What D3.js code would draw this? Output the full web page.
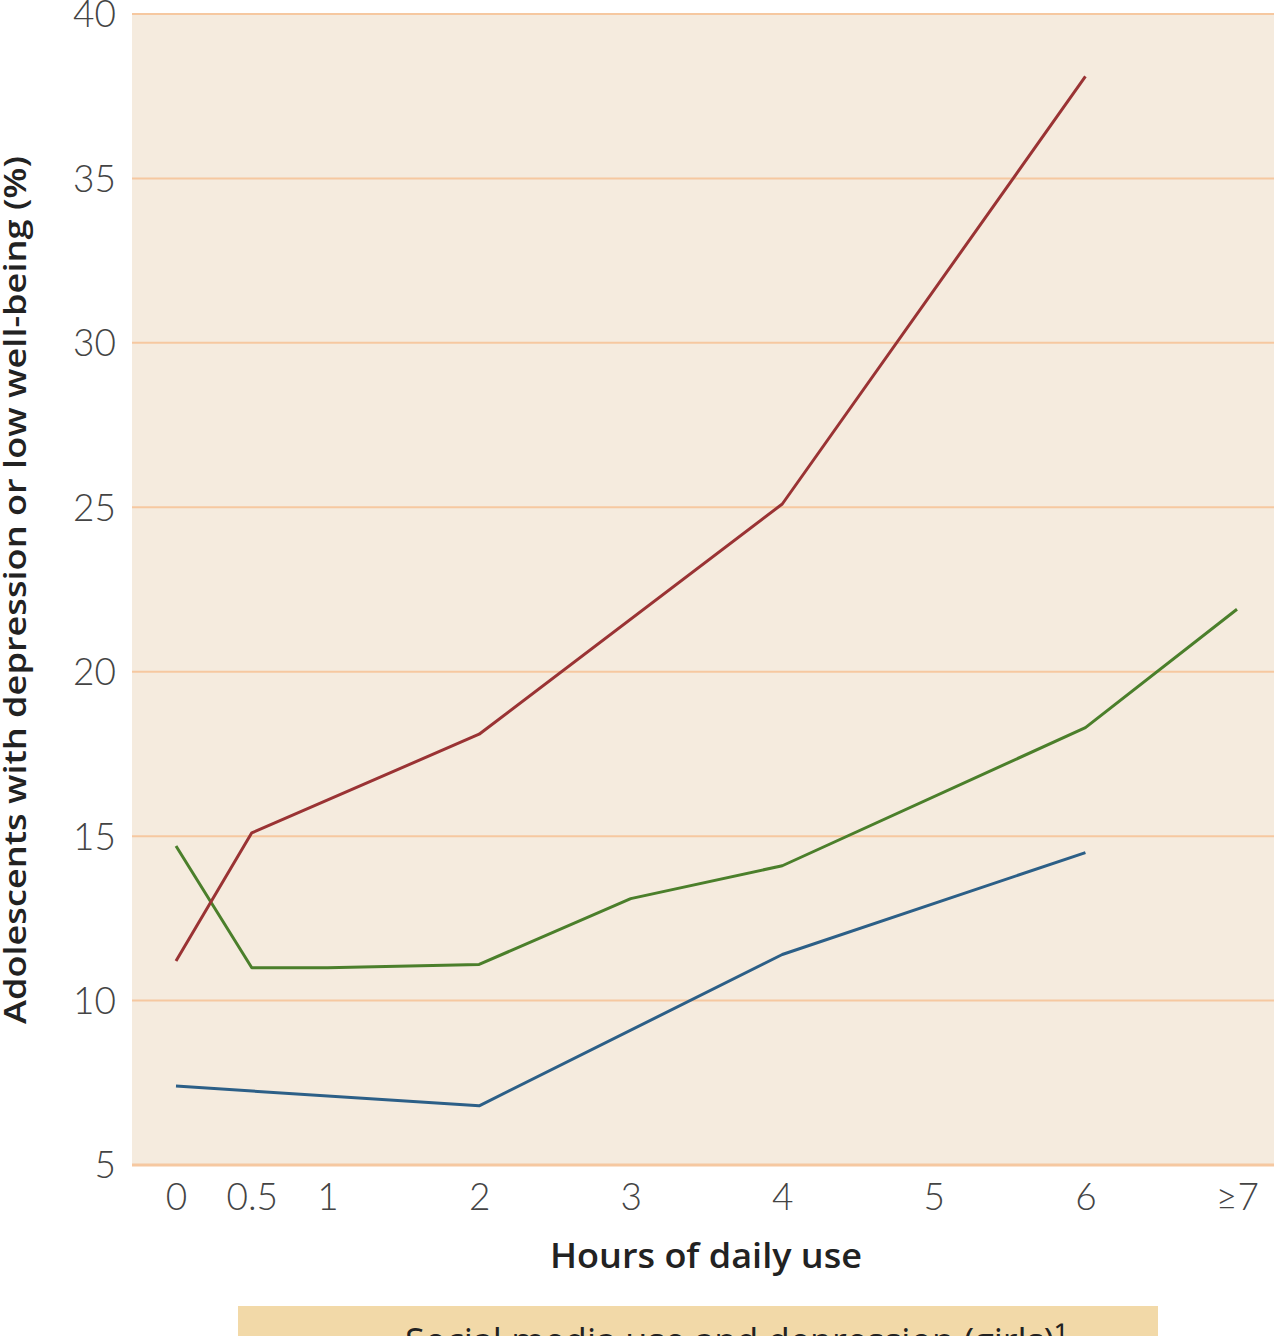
<!DOCTYPE html>
<html lang="en">
<head>
  <meta charset="UTF-8" />
  <title>Social media use and depression</title>
  <script src="https://cdn.jsdelivr.net/npm/d3@7"></script>
  <style>
    body { margin: 0; background: #fff; }
    svg { display: block; }
  </style>
</head>
<body>
<script>
  // hours of daily use (>=7 plotted at 7)
  const xTicks = [0, 0.5, 1, 2, 3, 4, 5, 6, 7];
  const xTickLabels = ["0", "0.5", "1", "2", "3", "4", "5", "6", "\u22657"];
  const yTicks = [5, 10, 15, 20, 25, 30, 35, 40];

  const redHours = [0, 0.5, 2, 4, 6];
  const redValues = [11.2, 15.1, 18.1, 25.1, 38.1];

  const greenHours = [0, 0.5, 1, 2, 3, 4, 6, 7];
  const greenValues = [14.7, 11.0, 11.0, 11.1, 13.1, 14.1, 18.3, 21.9];

  const blueHours = [0, 2, 4, 6];
  const blueValues = [7.4, 6.8, 11.4, 14.5];

  const W = 1274, H = 1336;
  const svg = d3.select("body").append("svg")
    .attr("width", W).attr("height", H);

  const x = d3.scaleLinear().domain([0, 7]).range([176, 1237]);
  const y = d3.scaleLinear().domain([5, 40]).range([1165, 14]);

  // plot background
  svg.append("rect")
    .attr("x", 132).attr("y", y(40))
    .attr("width", W - 132).attr("height", y(5) - y(40))
    .attr("fill", "#f5ebde");

  // gridlines
  svg.append("g")
    .selectAll("line")
    .data(yTicks)
    .join("line")
    .attr("x1", 132).attr("x2", W)
    .attr("y1", d => y(d)).attr("y2", d => y(d))
    .attr("stroke", "#f6c8a0")
    .attr("stroke-width", d => d === 5 ? 3 : 2);

  // y axis tick labels
  const yAxis = d3.axisLeft(y).tickValues(yTicks).tickSize(0).tickPadding(0);
  svg.append("g")
    .attr("transform", "translate(116,0)")
    .call(yAxis)
    .call(g => g.select(".domain").remove())
    .selectAll("text")
    .attr("font-family", "Lato, sans-serif")
    .attr("font-weight", 300)
    .attr("font-size", 37)
    .attr("fill", "#444")
    .attr("dy", "0.35em");

  // x axis tick labels
  const xAxis = d3.axisBottom(x).tickValues(xTicks)
    .tickFormat((d, i) => xTickLabels[i]).tickSize(0).tickPadding(0);
  svg.append("g")
    .attr("transform", "translate(0,1184)")
    .call(xAxis)
    .call(g => g.select(".domain").remove())
    .selectAll("text")
    .attr("font-family", "Lato, sans-serif")
    .attr("font-weight", 300)
    .attr("font-size", 37)
    .attr("fill", "#444");

  // series
  const line = d3.line().x(d => x(d[0])).y(d => y(d[1]));
  const series = [
    { hours: blueHours, values: blueValues, color: "#2c5f87" },
    { hours: greenHours, values: greenValues, color: "#4b7f2b" },
    { hours: redHours, values: redValues, color: "#9a3334" }
  ];
  svg.append("g")
    .selectAll("path")
    .data(series)
    .join("path")
    .attr("d", s => line(d3.zip(s.hours, s.values)))
    .attr("fill", "none")
    .attr("stroke", s => s.color)
    .attr("stroke-width", 3)
    .attr("stroke-linejoin", "round");

  // axis titles
  svg.append("text")
    .attr("x", 706).attr("y", 1268)
    .attr("text-anchor", "middle")
    .attr("font-family", "'Open Sans', sans-serif")
    .attr("font-weight", 600)
    .attr("font-size", 34)
    .attr("textLength", 312)
    .attr("lengthAdjust", "spacingAndGlyphs")
    .attr("fill", "#222")
    .text("Hours of daily use");

  svg.append("text")
    .attr("transform", "translate(26,590) rotate(-90)")
    .attr("text-anchor", "middle")
    .attr("font-family", "'Open Sans', sans-serif")
    .attr("font-weight", 600)
    .attr("font-size", 31)
    .attr("textLength", 868)
    .attr("lengthAdjust", "spacingAndGlyphs")
    .attr("fill", "#222")
    .text("Adolescents with depression or low well-being (%)");

  // caption box (cut off at bottom)
  svg.append("rect")
    .attr("x", 238).attr("y", 1306)
    .attr("width", 920).attr("height", 40)
    .attr("fill", "#f2d9a8");
  svg.append("text")
    .attr("x", 736).attr("y", 1354)
    .attr("text-anchor", "middle")
    .attr("font-family", "'Open Sans', sans-serif")
    .attr("font-size", 36)
    .attr("textLength", 662)
    .attr("lengthAdjust", "spacingAndGlyphs")
    .attr("fill", "#222")
    .text("Social media use and depression (girls)\u00b9");
</script>
</body>
</html>
